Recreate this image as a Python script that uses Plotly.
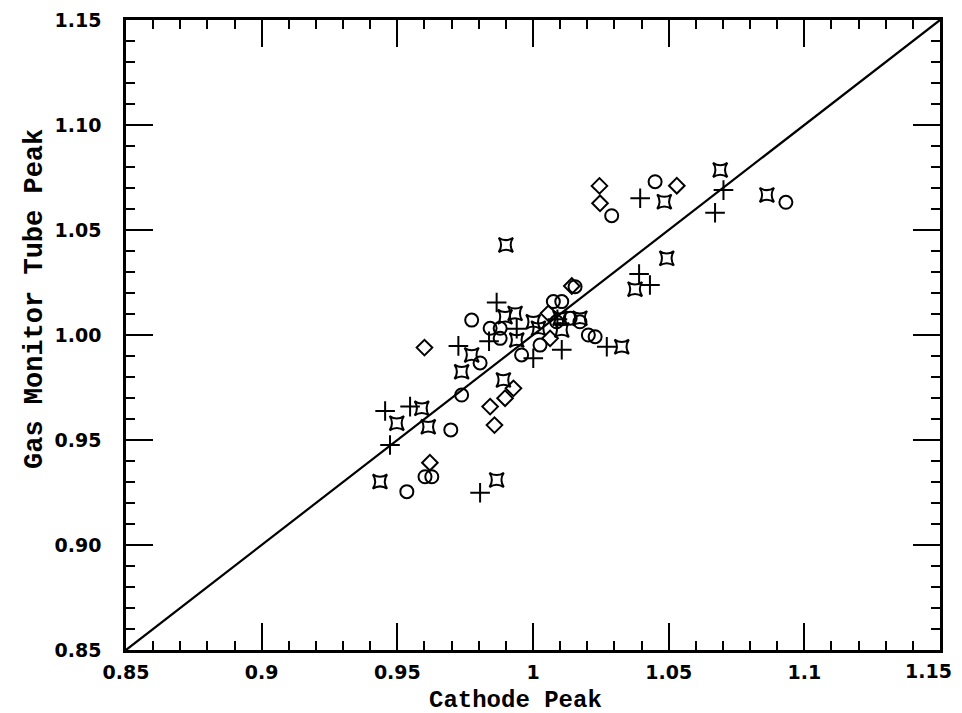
import plotly.graph_objects as go

# ---- data ----
plus_x = [0.9866, 0.9940, 0.9838, 0.9725, 1.0106, 1.0001, 0.9455, 0.9547, 0.9473, 0.9805,
          1.0272, 1.0395, 1.0702, 1.0671, 1.0391, 1.0431, 1.0090]
plus_y = [1.0155, 1.0030, 0.9970, 0.9948, 0.9930, 0.9889, 0.9638, 0.9659, 0.9476, 0.9249,
          0.9944, 1.0651, 1.0690, 1.0582, 1.0290, 1.0238, 1.0075]

circ_x = [0.9774, 0.9842, 0.9879, 0.9879, 0.9805, 0.9737, 0.9958, 0.9697, 0.9602, 0.9627,
          0.9535, 1.0075, 1.0106, 1.0155, 1.0137, 1.0087, 1.0026, 1.0204, 1.0229, 1.0290,
          1.0450, 1.0932, 1.0173]
circ_y = [1.0071, 1.0032, 1.0032, 0.9984, 0.9867, 0.9714, 0.9905, 0.9548, 0.9325, 0.9325,
          0.9254, 1.0159, 1.0159, 1.0230, 1.0080, 1.0063, 0.9952, 1.0000, 0.9992, 1.0568,
          1.0730, 1.0632, 1.0063]

diam_x = [0.9600, 0.9842, 0.9858, 0.9620, 0.9897, 0.9928, 1.0057, 1.0063, 1.0143, 1.0245,
          1.0247, 1.0530]
diam_y = [0.9940, 0.9659, 0.9571, 0.9392, 0.9699, 0.9746, 1.0103, 0.9984, 1.0233, 1.0710,
          1.0627, 1.0711]

star_x = [0.9900, 0.9934, 0.9897, 1.0001, 1.0020, 0.9940, 0.9774, 0.9737, 0.9590, 0.9498,
          0.9614, 0.9436, 0.9866, 0.9891, 1.0106, 1.0173, 1.0100, 1.0327, 1.0376, 1.0493,
          1.0484, 1.0690, 1.0862]
star_y = [1.0429, 1.0103, 1.0087, 1.0063, 1.0032, 0.9976, 0.9905, 0.9825, 0.9651, 0.9580,
          0.9563, 0.9302, 0.9310, 0.9786, 1.0024, 1.0080, 1.0080, 0.9944, 1.0218, 1.0365,
          1.0635, 1.0786, 1.0667]

line_x = [0.85, 1.15]
line_y = [0.85, 1.15]

x_tickvals = [0.85, 0.90, 0.95, 1.00, 1.05, 1.10, 1.15]
x_ticktext = ["0.85", "0.9", "0.95", "1", "1.05", "1.1", "1.15"]
y_tickvals = [0.85, 0.90, 0.95, 1.00, 1.05, 1.10, 1.15]
y_ticktext = ["0.85", "0.90", "0.95", "1.00", "1.05", "1.10", "1.15"]

x_title = "Cathode Peak"
y_title = "Gas Monitor Tube Peak"

# ---- figure ----
fig = go.Figure()

fig.add_trace(go.Scatter(x=line_x, y=line_y, mode="lines",
                         line=dict(color="black", width=2.2), hoverinfo="skip"))

def add_markers(xs, ys, symbol, size):
    fig.add_trace(go.Scatter(
        x=xs, y=ys, mode="markers",
        marker=dict(symbol=symbol, size=size, color="black",
                    line=dict(color="black", width=2))))

add_markers(plus_x, plus_y, "cross-thin-open", 14)
add_markers(circ_x, circ_y, "circle-open", 13)
add_markers(diam_x, diam_y, "diamond-open", 12)
add_markers(star_x, star_y, "star-square-open", 13)

tick_font = dict(family="DejaVu Sans", size=19, color="black", weight="bold")

eps = 1e-6
axis_common = dict(
    range=[0.85 - eps, 1.15 + eps], showgrid=False, zeroline=False,
    showline=True, linecolor="black", linewidth=2.5, mirror="ticks",
    ticks="inside", ticklen=27, tickwidth=2, tickcolor="black",
    minor=dict(ticks="inside", ticklen=9, tickwidth=2, tickcolor="black", dtick=0.01,
               showgrid=False),
    tickfont=tick_font, tickmode="array", ticklabeloverflow="allow",
    automargin=False,
)

# last x label is drawn as an annotation so it can sit inside the page edge
fig.update_xaxes(**axis_common, tickvals=x_tickvals,
                 ticktext=x_ticktext[:-1] + [""], ticklabelstandoff=3)
fig.update_yaxes(**axis_common, tickvals=y_tickvals, ticktext=y_ticktext, ticklabelstandoff=18)

fig.add_annotation(text=x_ticktext[-1], x=x_tickvals[-1], xref="x", yref="paper",
                   y=-(671 - 650) / 630, xanchor="right", yanchor="middle",
                   xshift=14, showarrow=False, font=tick_font)

fig.add_annotation(text=x_title, xref="paper", yref="paper",
                   x=(515 - 126) / 814, y=-(700 - 650) / 630,
                   xanchor="center", yanchor="middle", showarrow=False,
                   font=dict(family="Liberation Mono", size=24, color="black", weight="bold"))
fig.add_annotation(text=y_title, xref="paper", yref="paper",
                   x=-(126 - 35) / 814, y=(650 - 299) / 630, textangle=-90,
                   xanchor="center", yanchor="middle", showarrow=False,
                   font=dict(family="Liberation Mono", size=27, color="black", weight="bold"))

fig.update_layout(
    width=962, height=713,
    margin=dict(l=126, r=22, t=20, b=63),
    paper_bgcolor="white", plot_bgcolor="white",
    showlegend=False,
)

fig.write_html("out.html")
